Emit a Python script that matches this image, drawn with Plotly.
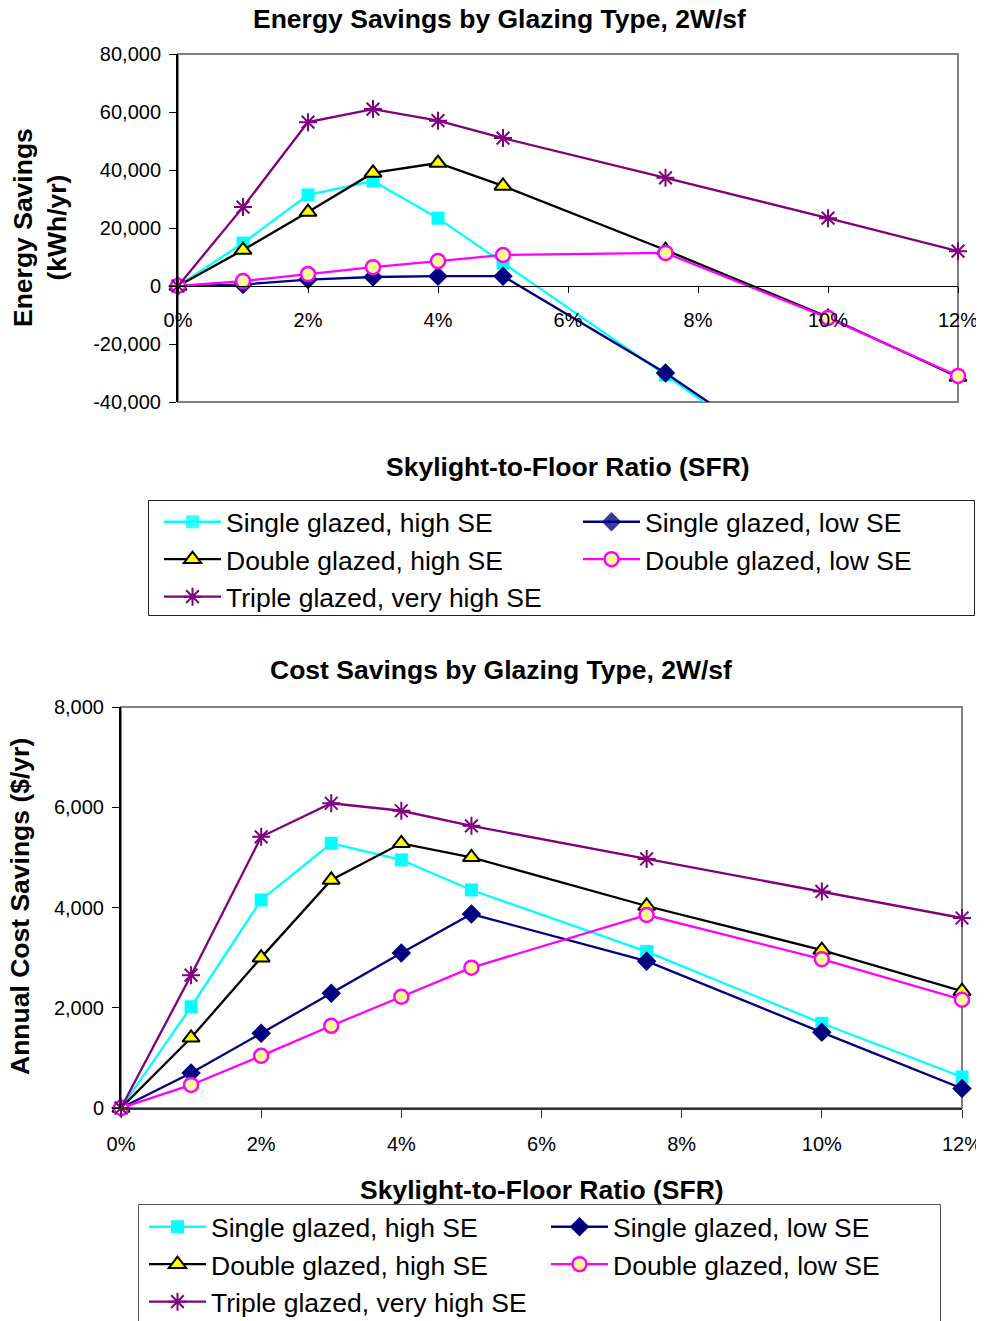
import plotly.graph_objects as go

# The page adds an 8px body margin, so the figure is sized to fit the window.
OFF = 8
W, H = 984 - OFF, 1321 - OFF


def px(xp):
    return (xp - OFF) / W


def py(yp):
    return 1 - (yp - OFF) / H


# ---------------- data ----------------
sfr = [0, 1, 2, 3, 4, 5, 7.5, 10, 12]
series_names = [
    "Single glazed, high SE",
    "Single glazed, low SE",
    "Double glazed, high SE",
    "Double glazed, low SE",
    "Triple glazed, very high SE",
]

energy_single_high = [0, 14800, 31400, 36200, 23400, 7900, -30700, -70000, -95000]
energy_single_low = [0, 500, 2200, 3100, 3400, 3400, -30000, -68000, -93000]
energy_double_high = [0, 12400, 25500, 39000, 42400, 34500, 12400, -10700, -31400]
energy_double_low = [0, 1700, 4100, 6500, 8600, 10700, 11400, -11000, -31000]
energy_triple = [0, 27200, 56500, 61000, 57000, 51000, 37300, 23400, 12000]

cost_single_high = [0, 2020, 4150, 5280, 4950, 4350, 3120, 1690, 620]
cost_single_low = [0, 700, 1490, 2290, 3090, 3870, 2930, 1510, 390]
cost_double_high = [0, 1400, 3000, 4550, 5280, 5000, 4030, 3150, 2330]
cost_double_low = [0, 460, 1040, 1640, 2220, 2800, 3850, 2970, 2160]
cost_triple = [0, 2650, 5410, 6080, 5930, 5630, 4970, 4320, 3790]

energy_ticks = [-40000, -20000, 0, 20000, 40000, 60000, 80000]
energy_tick_labels = ["-40,000", "-20,000", "0", "20,000", "40,000", "60,000", "80,000"]
cost_ticks = [0, 2000, 4000, 6000, 8000]
cost_tick_labels = ["0", "2,000", "4,000", "6,000", "8,000"]
sfr_ticks = [0, 2, 4, 6, 8, 10, 12]
sfr_tick_labels = ["0%", "2%", "4%", "6%", "8%", "10%", "12%"]

energy_series = [energy_single_high, energy_single_low, energy_double_high,
                 energy_double_low, energy_triple]
cost_series = [cost_single_high, cost_single_low, cost_double_high,
               cost_double_low, cost_triple]

# ---------------- styles ----------------
FONT = "Liberation Sans, Arial, sans-serif"
styles = [
    dict(line="#00FFFF", symbol="square", fill="#00FFFF", edge="#00FFFF", size=13, lw=0),
    dict(line="#000080", symbol="diamond", fill="#000080", edge="#000080", size=15, lw=0),
    dict(line="#000000", symbol="triangle-up", fill="#FFFF00", edge="#000000", size=15, lw=2),
    dict(line="#FF00FF", symbol="circle", fill="#FFFF99", edge="#FF00FF", size=14, lw=2.5),
    dict(line="#800080", symbol="asterisk-open", fill="#800080", edge="#800080", size=15, lw=2),
]

E_RANGE = [-40000, 80000]
C_RANGE = [0, 8000]

# layout geometry (page pixels -> paper fractions)
top_x = [px(178), px(958)]
top_y = [py(402), py(54)]
bot_x = [px(121), px(962)]
bot_y = [py(1108), py(707)]

fig = go.Figure()

for name, vals, st in zip(series_names, energy_series, styles):
    opac = [1 if E_RANGE[0] <= v <= E_RANGE[1] else 0 for v in vals]
    fig.add_trace(go.Scatter(
        x=sfr, y=vals, name=name, mode="lines+markers",
        line=dict(color=st["line"], width=2.3),
        marker=dict(symbol=st["symbol"], color=st["fill"], size=st["size"],
                    opacity=opac, line=dict(color=st["edge"], width=st["lw"])),
        cliponaxis=False, xaxis="x", yaxis="y", legend="legend",
    ))

for name, vals, st in zip(series_names, cost_series, styles):
    fig.add_trace(go.Scatter(
        x=sfr, y=vals, name=name, mode="lines+markers",
        line=dict(color=st["line"], width=2.3),
        marker=dict(symbol=st["symbol"], color=st["fill"], size=st["size"],
                    line=dict(color=st["edge"], width=st["lw"])),
        cliponaxis=False, xaxis="x2", yaxis="y2", legend="legend2",
    ))

zero_pos = top_y[0] + (0 - E_RANGE[0]) / (E_RANGE[1] - E_RANGE[0]) * (top_y[1] - top_y[0])

tickfont = dict(family=FONT, size=20, color="black")
title_font = dict(family=FONT, size=26.5, color="black")
legend_font = dict(family=FONT, size=26.5, color="black")

fig.update_layout(
    width=W, height=H,
    margin=dict(l=0, r=0, t=0, b=0, autoexpand=False),
    paper_bgcolor="white", plot_bgcolor="white",
    font=dict(family=FONT, color="black"),
    xaxis=dict(domain=top_x, range=[0, 12], anchor="free", position=zero_pos,
               tickvals=sfr_ticks, ticktext=sfr_tick_labels, tickfont=tickfont,
               showgrid=False, zeroline=False, showline=True, linecolor="black",
               linewidth=1.3, ticks="outside", ticklen=6, tickcolor="black",
               tickwidth=1.3, ticklabelstandoff=10, automargin=False),
    yaxis=dict(domain=top_y, range=E_RANGE, anchor="x",
               tickvals=energy_ticks, ticktext=energy_tick_labels, tickfont=tickfont,
               showgrid=False, zeroline=False, showline=True, linecolor="black",
               linewidth=2, ticks="outside", ticklen=7, tickcolor="black",
               tickwidth=1.3, ticklabelstandoff=4, automargin=False),
    xaxis2=dict(domain=bot_x, range=[0, 12], anchor="y2",
                tickvals=sfr_ticks, ticktext=sfr_tick_labels, tickfont=tickfont,
                showgrid=False, zeroline=False, showline=True, linecolor="#333333",
                linewidth=2, ticks="outside", ticklen=8, tickcolor="#333333",
                tickwidth=1.3, ticklabelstandoff=9, automargin=False),
    yaxis2=dict(domain=bot_y, range=C_RANGE, anchor="x2",
                tickvals=cost_ticks, ticktext=cost_tick_labels, tickfont=tickfont,
                showgrid=False, zeroline=False, showline=True, linecolor="black",
                linewidth=2, ticks="outside", ticklen=7, tickcolor="black",
                tickwidth=1.3, ticklabelstandoff=4, automargin=False),
    legend=dict(x=px(159), y=py(498), xanchor="left", yanchor="top",
                orientation="h", entrywidth=347, entrywidthmode="pixels",
                itemwidth=57, font=legend_font,
                borderwidth=0, bgcolor="rgba(0,0,0,0)", traceorder="normal"),
    legend2=dict(x=px(144), y=py(1203), xanchor="left", yanchor="top",
                 orientation="h", entrywidth=330, entrywidthmode="pixels",
                 itemwidth=57, font=legend_font,
                 borderwidth=0, bgcolor="rgba(0,0,0,0)", traceorder="normal"),
    shapes=[
        dict(type="rect", xref="x domain", yref="y domain", x0=0, x1=1, y0=0, y1=1,
             line=dict(color="#808080", width=2), layer="below"),
        dict(type="rect", xref="x2 domain", yref="y2 domain", x0=0, x1=1, y0=0, y1=1,
             line=dict(color="#808080", width=2), layer="below"),
        # legend frames
        dict(type="rect", xref="paper", yref="paper",
             x0=px(148.5), x1=px(974.5), y0=py(615.5), y1=py(500.5),
             line=dict(color="#222222", width=1), fillcolor="white", layer="below"),
        dict(type="rect", xref="paper", yref="paper",
             x0=px(138.5), x1=px(940.5), y0=py(1340), y1=py(1204.5),
             line=dict(color="#555555", width=1), fillcolor="white", layer="below"),
    ],
    annotations=[
        dict(text="<b>Energy Savings by Glazing Type, 2W/sf</b>", xref="paper", yref="paper",
             x=px(500), y=py(19), xanchor="center", yanchor="middle",
             showarrow=False, font=title_font),
        dict(text="<b>Skylight-to-Floor Ratio (SFR)</b>", xref="x domain", yref="paper",
             x=0.5, y=py(467), xanchor="center", yanchor="middle",
             showarrow=False, font=title_font),
        dict(text="<b>Energy Savings<br>(kWh/yr)</b>", xref="paper", yref="paper",
             x=px(40), y=py(228), xanchor="center", yanchor="middle",
             textangle=-90, showarrow=False, font=title_font),
        dict(text="<b>Cost Savings by Glazing Type, 2W/sf</b>", xref="paper", yref="paper",
             x=px(501), y=py(670), xanchor="center", yanchor="middle",
             showarrow=False, font=title_font),
        dict(text="<b>Skylight-to-Floor Ratio (SFR)</b>", xref="x2 domain", yref="paper",
             x=0.5, y=py(1190), xanchor="center", yanchor="middle",
             showarrow=False, font=title_font),
        dict(text="<b>Annual Cost Savings ($/yr)</b>", xref="paper", yref="paper",
             x=px(20), y=py(907), xanchor="center", yanchor="middle",
             textangle=-90, showarrow=False, font=title_font),
    ],
)

fig.write_html("out.html")
